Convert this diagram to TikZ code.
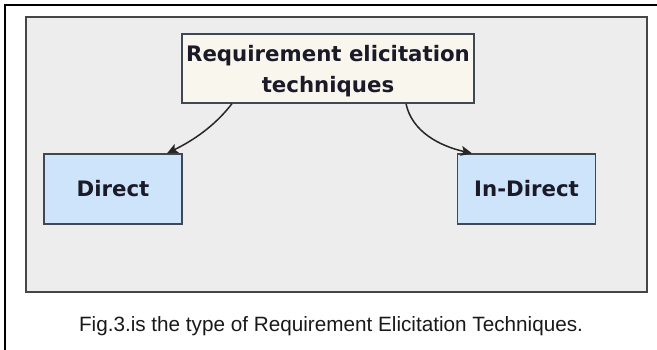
\documentclass[tikz,border=0pt]{standalone}
\usepackage{fontspec}
\setmainfont{Liberation Sans}
\newfontfamily\boxfont{DejaVu Sans}
\usetikzlibrary{arrows.meta}

\definecolor{panelfill}{RGB}{237,237,237}
\definecolor{panelline}{RGB}{70,70,70}
\definecolor{rootfill}{RGB}{248,246,237}
\definecolor{leaffill}{RGB}{205,228,250}
\definecolor{boxline}{RGB}{64,72,84}
\definecolor{boxtext}{RGB}{26,26,40}

\tikzset{
  frameline/.style={line width=2pt, draw=black},
  panel/.style={fill=panelfill, draw=panelline, line width=1.5pt},
  rootbox/.style={draw=boxline, fill=rootfill, line width=1.3pt, inner sep=0pt,
    minimum width=292pt, minimum height=69pt,
    font=\boxfont\bfseries\fontsize{21.3}{31}\selectfont, text=boxtext},
  leafbox/.style={draw=boxline, fill=leaffill, line width=1.3pt, inner sep=0pt,
    minimum width=138pt, minimum height=70pt,
    font=\boxfont\bfseries\fontsize{21.3}{25}\selectfont, text=boxtext},
  link/.style={draw=black!85, line width=1.5pt,
    -{Stealth[length=11pt,width=10pt,inset=2.5pt]}},
  captiontext/.style={font=\fontsize{20.7}{24}\selectfont, text=black!90, inner sep=0pt}
}

\begin{document}
\begin{tikzpicture}[x=1pt, y=-1pt]
  \useasboundingbox (0,0) rectangle (657,350);

  % open frame: top and left edges
  \draw[frameline] (657,5) -- (5,5) -- (5,350);

  % grey panel behind the diagram
  \draw[panel] (26,17) rectangle (647,292);

  % nodes
  \node[rootbox] (root) at (328,68.5)
    {\raisebox{0pt}[\dimexpr\height+5.6pt\relax][\depth]{\begin{tabular}{@{}c@{}}Requirement elicitation\\techniques\end{tabular}}};
  \node[leafbox] (direct) at (113,189) {Direct};
  \node[leafbox] (indirect) at (526.5,189) {In-Direct};

  % connector end points
  \coordinate (lstart) at ([xshift=-96pt]root.south);
  \coordinate (lend)   at ([xshift=54pt]direct.north);
  \coordinate (rstart) at ([xshift=78pt]root.south);
  \coordinate (rend)   at ([xshift=-54.5pt]indirect.north);

  \draw[link] (lstart) .. controls (214,127) and (192,141) .. (lend);
  \draw[link] (rstart) .. controls (412,132) and (440,146) .. (rend);

  % caption
  \node[captiontext, anchor=base] (caption) at (331,331.5)
    {Fig.3.is the type of Requirement Elicitation Techniques.};
\end{tikzpicture}
\end{document}
